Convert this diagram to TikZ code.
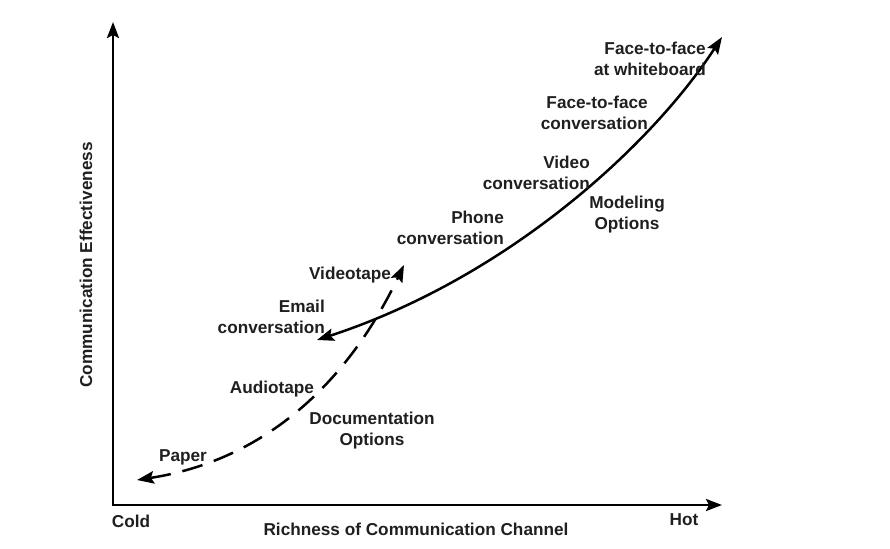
\documentclass[tikz,border=0pt]{standalone}
\usepackage{fontspec}
\setmainfont{Liberation Sans}
\usepackage{tikz}
\usetikzlibrary{arrows.meta,positioning}
\tikzset{
  lbl/.style={inner sep=0pt,font=\bfseries\fontsize{17.2}{21}\selectfont,text=black!88},
  tip/.style={-{Stealth[length=16pt,width=12pt,inset=3pt]}},
  axis/.style={tip,line width=2.6pt},
  crv/.style={{Stealth[length=17pt,width=12.5pt,inset=3pt]}-{Stealth[length=17pt,width=12.5pt,inset=3pt]},line width=2.5pt},
  dsh/.style={crv,dash pattern=on 21pt off 12pt},
}

\begin{document}
\begin{tikzpicture}[x=1pt,y=-1pt]
 \useasboundingbox (0,0) rectangle (890,548);
 % axes
 \coordinate (o) at (113,505);
 \coordinate (ytop) at (113,22);
 \coordinate (xend) at (722,505);
 \draw[axis] ([yshift=-1.3pt]o)--(ytop);
 \draw[axis] ([xshift=-1.3pt]o)--(xend);
 \node[lbl] (cold) at (131,521) {Cold};
 \node[lbl] (hot) at (684,520) {Hot};
 \node[lbl] (xlab) at (416,529) {Richness of Communication Channel};
 \node[lbl,rotate=90] (ylab) at (86,265) {Communication Effectiveness};
 % modeling options
 \coordinate (m0) at (317,340);
 \coordinate (m1) at (722,37);
 \draw[crv] (m0) .. controls (507,278) and (651,146) .. (m1);
 % documentation options
 \coordinate (d0) at (137,480);
 \coordinate (d1) at (404,265);
 \draw[dsh] (d0) .. controls (266,460) and (348,382) .. (d1);
 % labels
 \node[lbl,align=right,anchor=east] (whiteb) at (706,58.5) {Face-to-face\\at whiteboard};
 \node[lbl,align=right,anchor=east] (ftf) at (648,112.5) {Face-to-face\\conversation};
 \node[lbl,align=right,anchor=east] (video) at (590,173) {Video\\conversation};
 \node[lbl,align=center] (model) at (627,214.5) {Modeling\\Options};
 \node[lbl,align=right,anchor=east] (phone) at (504,227.5) {Phone\\conversation};
 \node[lbl] (vtape) at (350,275) {Videotape};
 \node[lbl,align=right,anchor=east] (email) at (325,316.5) {Email\\conversation};
 \node[lbl] (atape) at (272,389) {Audiotape};
 \node[lbl,align=center] (docu) at (372,431) {Documentation\\Options};
 \node[lbl] (paper) at (183,457) {Paper};
\end{tikzpicture}
\end{document}
